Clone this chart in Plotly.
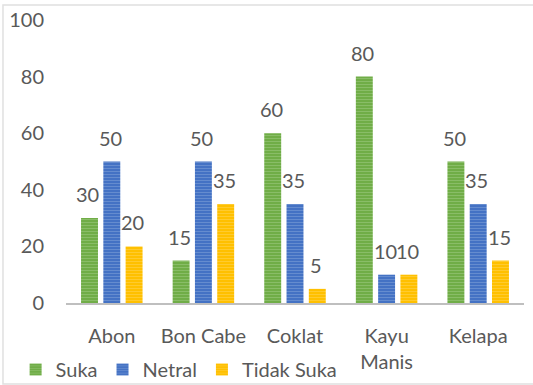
import plotly.graph_objects as go

categories = ["Abon", "Bon Cabe", "Coklat", "Kayu<br>Manis", "Kelapa"]
suka = [30, 15, 60, 80, 50]
netral = [50, 50, 35, 10, 35]
tidak_suka = [20, 35, 5, 10, 15]

series = [
    ("Suka", suka, "#70AD47", "#A9D18E"),
    ("Netral", netral, "#4472C4", "#8FAADC"),
    ("Tidak Suka", tidak_suka, "#FFC000", "#FFD966"),
]

FONT = "Lato"
TXT = "#595959"
slot_px = 22.5  # horizontal pitch between bars within a group

fig = go.Figure()
annotations = []
for i, (name, vals, col, light) in enumerate(series):
    fig.add_trace(go.Bar(
        name=name, x=categories, y=vals,
        marker=dict(color=col, line=dict(width=0),
                    pattern=dict(shape="-", fgcolor=light, size=3, solidity=0.3)),
    ))
    for c, v in zip(categories, vals):
        annotations.append(dict(
            x=c, y=v, xref="x", yref="y", text=str(v), showarrow=False,
            xshift=(i - 1) * slot_px - 1.5, yshift=24, yanchor="middle",
            font=dict(size=20, color=TXT, family=FONT)))

fig.update_layout(
    width=533, height=385,
    margin=dict(l=66, r=9, t=20, b=82, autoexpand=False),
    barmode="group", bargap=0.27, bargroupgap=0.24,
    plot_bgcolor="white", paper_bgcolor="white",
    font=dict(family=FONT, size=20, color=TXT),
    showlegend=True,
    legend=dict(orientation="h", x=-0.11, y=-0.235, xanchor="left", yanchor="middle",
                font=dict(size=20, color=TXT), itemwidth=30,
                traceorder="normal", bgcolor="rgba(0,0,0,0)"),
    xaxis=dict(showline=True, linecolor="#BFBFBF", linewidth=1.5, ticks="",
               showgrid=False, automargin=False, ticklabelstandoff=14,
               tickfont=dict(size=20, color=TXT)),
    yaxis=dict(range=[0, 100], dtick=20, showgrid=False, showline=False,
               zeroline=False, ticks="", ticklabelstandoff=21, automargin=False,
               tickfont=dict(size=20, color=TXT)),
    annotations=annotations,
    shapes=[dict(type="rect", xref="paper", yref="paper", x0=-0.1376, x1=1.05,
                 y0=-0.286, y1=1.053, line=dict(color="#E0E0E0", width=1.5))],
)

fig.write_html("out.html")
